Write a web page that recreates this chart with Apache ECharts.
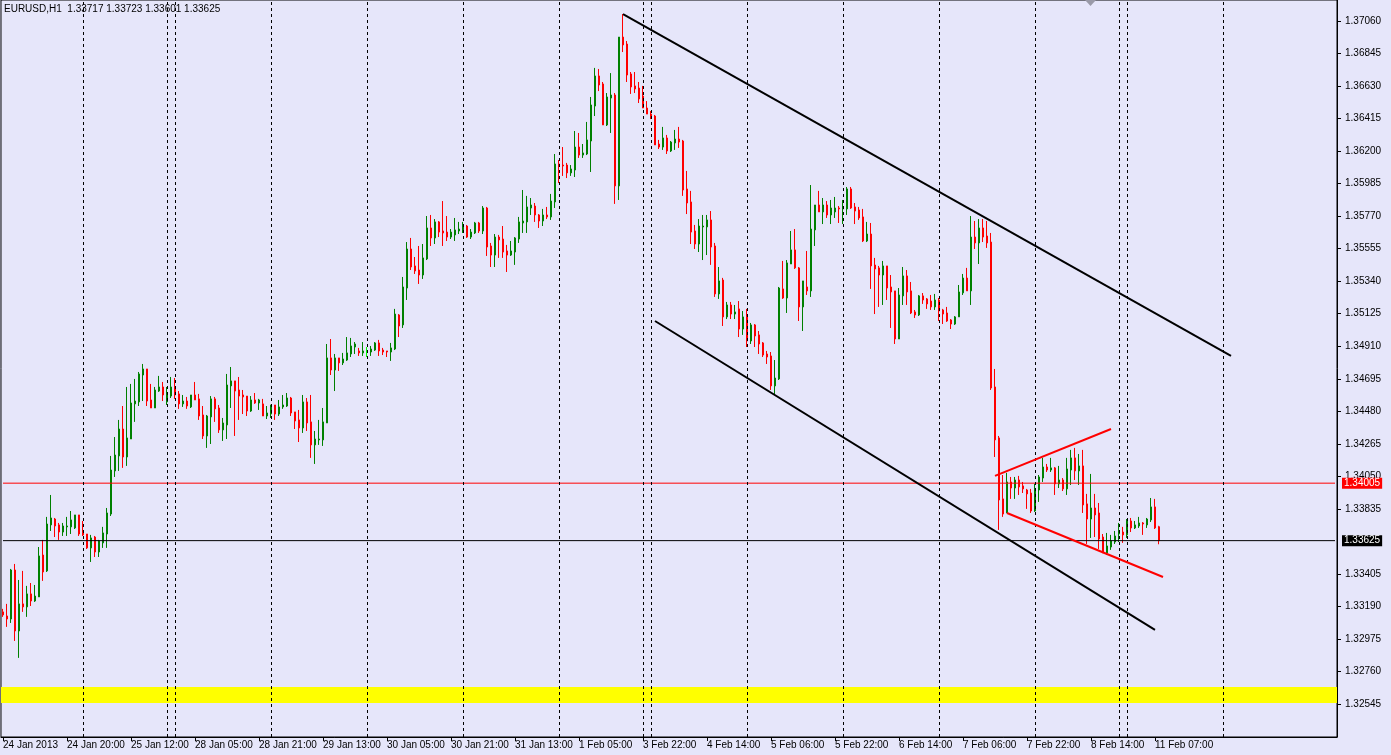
<!DOCTYPE html>
<html><head><meta charset="utf-8">
<script src="https://cdn.jsdelivr.net/npm/echarts@6/dist/echarts.min.js"></script>
<style>html,body{margin:0;padding:0;background:#e6e6fa;}#c{width:1391px;height:755px;}</style>
</head><body><div id="c"></div>
<script>
const chartTitle = 'EURUSD,H1  1.33717 1.33723 1.33601 1.33625';
const opens = [
1.33154,1.33127,1.33107,1.33431,1.33028,1.33207,1.33187,1.33273,1.33226,1.33253,
1.33530,1.33425,1.33729,1.33768,1.33729,1.33682,1.33716,1.33716,1.33709,1.33795,
1.33676,1.33669,1.33577,1.33649,1.33550,1.33610,1.33669,1.33801,1.34086,1.34185,
1.34363,1.34178,1.34297,1.34529,1.34542,1.34720,1.34760,1.34555,1.34502,1.34614,
1.34641,1.34542,1.34581,1.34641,1.34595,1.34529,1.34548,1.34509,1.34588,1.34562,
1.34456,1.34317,1.34443,1.34562,1.34502,1.34357,1.34390,1.34648,1.34681,1.34621,
1.34588,1.34581,1.34482,1.34555,1.34535,1.34529,1.34449,1.34462,1.34522,1.34462,
1.34509,1.34515,1.34568,1.34476,1.34423,1.34370,1.34542,1.34410,1.34258,1.34291,
1.34291,1.34403,1.34833,1.34753,1.34833,1.34800,1.34819,1.34859,1.34905,1.34879,
1.34866,1.34872,1.34872,1.34885,1.34932,1.34885,1.34879,1.34872,1.34892,1.35117,
1.35051,1.35295,1.35553,1.35441,1.35414,1.35381,1.35487,1.35692,1.35626,1.35732,
1.35672,1.35665,1.35632,1.35646,1.35672,1.35679,1.35705,1.35632,1.35659,1.35725,
1.35672,1.35824,1.35573,1.35513,1.35632,1.35619,1.35540,1.35513,1.35533,1.35619,
1.35725,1.35732,1.35824,1.35837,1.35778,1.35738,1.35778,1.35765,1.35864,1.36115,
1.36108,1.36108,1.36056,1.36075,1.36227,1.36174,1.36181,1.36267,1.36498,1.36697,
1.36644,1.36373,1.36551,1.36571,1.35970,1.36954,1.36908,1.36710,1.36631,1.36617,
1.36564,1.36485,1.36445,1.36432,1.36247,1.36227,1.36287,1.36201,1.36254,1.36280,
1.36267,1.35950,1.35864,1.35672,1.35586,1.35699,1.35699,1.35745,1.35573,1.35256,
1.35348,1.35104,1.35183,1.35123,1.35157,1.35024,1.35104,1.34945,1.35051,1.34985,
1.34932,1.34859,1.34846,1.34648,1.34694,1.35289,1.35229,1.35454,1.35547,1.35428,
1.35170,1.35302,1.35276,1.35679,1.35844,1.35798,1.35844,1.35778,1.35798,1.35824,
1.35818,1.35818,1.35950,1.35831,1.35811,1.35765,1.35606,1.35652,1.35447,1.35428,
1.35381,1.35441,1.35302,1.35276,1.34958,1.35243,1.35375,1.35276,1.35137,1.35117,
1.35243,1.35223,1.35209,1.35170,1.35216,1.35150,1.35130,1.35084,1.35057,1.35104,
1.35263,1.35361,1.35276,1.35632,1.35593,1.35692,1.35639,1.35599,1.34641,1.34304,
1.33901,1.33808,1.34013,1.33973,1.34026,1.33987,1.33960,1.33940,1.33821,1.33960,
1.34039,1.34112,1.34092,1.34106,1.34000,1.34026,1.33967,1.34092,1.34172,1.34086,
1.34119,1.33868,1.33768,1.33841,1.33808,1.33649,1.33544,1.33583,1.33616,1.33669,
1.33682,1.33663,1.33755,1.33709,1.33722,1.33742,1.33729,1.33762,1.33848,1.33717];
const highs = [
1.33174,1.33207,1.33438,1.33471,1.33365,1.33425,1.33326,1.33345,1.33332,1.33583,
1.33630,1.33782,1.33927,1.33775,1.33742,1.33742,1.33782,1.33821,1.33795,1.33795,
1.33755,1.33669,1.33663,1.33656,1.33630,1.33716,1.33841,1.34185,1.34310,1.34423,
1.34515,1.34641,1.34661,1.34694,1.34740,1.34793,1.34760,1.34661,1.34641,1.34714,
1.34674,1.34641,1.34707,1.34700,1.34614,1.34588,1.34575,1.34588,1.34674,1.34595,
1.34515,1.34456,1.34581,1.34575,1.34522,1.34436,1.34727,1.34773,1.34681,1.34707,
1.34621,1.34581,1.34581,1.34601,1.34562,1.34562,1.34515,1.34522,1.34522,1.34555,
1.34588,1.34601,1.34575,1.34476,1.34489,1.34588,1.34568,1.34588,1.34350,1.34423,
1.34502,1.34925,1.34958,1.34859,1.34833,1.34866,1.34971,1.34965,1.34938,1.34899,
1.34938,1.34905,1.34912,1.34938,1.34952,1.34899,1.34879,1.34932,1.35157,1.35123,
1.35368,1.35599,1.35626,1.35500,1.35573,1.35586,1.35771,1.35778,1.35751,1.35738,
1.35870,1.35771,1.35685,1.35758,1.35732,1.35732,1.35712,1.35685,1.35732,1.35732,
1.35837,1.35831,1.35593,1.35652,1.35646,1.35705,1.35580,1.35606,1.35632,1.35765,
1.35943,1.35904,1.35890,1.35857,1.35784,1.35818,1.35831,1.35917,1.36181,1.36141,
1.36227,1.36122,1.36108,1.36333,1.36320,1.36247,1.36393,1.36558,1.36750,1.36743,
1.36657,1.36584,1.36716,1.36584,1.36954,1.37106,1.36928,1.36723,1.36723,1.36657,
1.36631,1.36531,1.36465,1.36439,1.36274,1.36360,1.36307,1.36267,1.36340,1.36360,
1.36274,1.36069,1.35937,1.35712,1.35751,1.35778,1.35778,1.35804,1.35593,1.35434,
1.35362,1.35203,1.35203,1.35183,1.35209,1.35143,1.35157,1.35064,1.35057,1.35011,
1.34938,1.34879,1.34872,1.34819,1.35302,1.35474,1.35480,1.35672,1.35685,1.35434,
1.35342,1.35540,1.35976,1.35844,1.35937,1.35890,1.35870,1.35877,1.35897,1.35837,
1.35877,1.35963,1.35963,1.35857,1.35831,1.35818,1.35732,1.35725,1.35494,1.35441,
1.35474,1.35441,1.35381,1.35276,1.35295,1.35434,1.35414,1.35335,1.35150,1.35249,
1.35262,1.35229,1.35249,1.35256,1.35229,1.35157,1.35170,1.35090,1.35110,1.35315,
1.35388,1.35428,1.35771,1.35738,1.35751,1.35751,1.35738,1.35659,1.34760,1.34317,
1.34059,1.34073,1.34046,1.34046,1.34053,1.34013,1.33967,1.33967,1.34000,1.34059,
1.34172,1.34132,1.34172,1.34112,1.34119,1.34039,1.34172,1.34225,1.34238,1.34198,
1.34225,1.33934,1.34066,1.33934,1.33874,1.33669,1.33676,1.33663,1.33689,1.33742,
1.33716,1.33768,1.33775,1.33755,1.33782,1.33748,1.33775,1.33907,1.33901,1.33723];
const lows = [
1.33121,1.33055,1.33081,1.32962,1.32850,1.33154,1.33121,1.33193,1.33220,1.33253,
1.33359,1.33418,1.33689,1.33649,1.33630,1.33656,1.33656,1.33669,1.33702,1.33656,
1.33656,1.33570,1.33484,1.33517,1.33517,1.33577,1.33577,1.33788,1.34046,1.34086,
1.34106,1.34119,1.34297,1.34410,1.34515,1.34548,1.34515,1.34502,1.34502,1.34608,
1.34548,1.34522,1.34568,1.34562,1.34496,1.34509,1.34496,1.34502,1.34555,1.34423,
1.34297,1.34238,1.34264,1.34410,1.34337,1.34284,1.34297,1.34502,1.34317,1.34423,
1.34462,1.34449,1.34476,1.34529,1.34489,1.34449,1.34429,1.34436,1.34423,1.34449,
1.34496,1.34509,1.34449,1.34363,1.34277,1.34337,1.34350,1.34172,1.34132,1.34258,
1.34251,1.34403,1.34720,1.34614,1.34747,1.34786,1.34813,1.34839,1.34859,1.34846,
1.34846,1.34839,1.34846,1.34879,1.34846,1.34852,1.34839,1.34813,1.34885,1.34971,
1.35031,1.35216,1.35414,1.35388,1.35322,1.35355,1.35480,1.35573,1.35586,1.35632,
1.35573,1.35606,1.35619,1.35606,1.35652,1.35659,1.35626,1.35619,1.35652,1.35659,
1.35652,1.35507,1.35434,1.35434,1.35494,1.35494,1.35401,1.35507,1.35448,1.35593,
1.35659,1.35659,1.35778,1.35732,1.35692,1.35705,1.35751,1.35745,1.35824,1.35989,
1.36036,1.36022,1.36036,1.36029,1.36155,1.36155,1.36174,1.36062,1.36432,1.36597,
1.36373,1.36366,1.36320,1.35851,1.35877,1.36855,1.36657,1.36578,1.36584,1.36518,
1.36485,1.36445,1.36412,1.36241,1.36214,1.36208,1.36181,1.36194,1.36208,1.36221,
1.35904,1.35784,1.35586,1.35553,1.35533,1.35480,1.35513,1.35448,1.35236,1.35223,
1.35044,1.35090,1.35090,1.35090,1.34971,1.34985,1.34905,1.34925,1.34905,1.34859,
1.34839,1.34793,1.34621,1.34588,1.34687,1.35223,1.35130,1.35454,1.35421,1.35077,
1.35011,1.35249,1.35236,1.35573,1.35798,1.35718,1.35758,1.35718,1.35758,1.35725,
1.35718,1.35778,1.35818,1.35718,1.35745,1.35599,1.35599,1.35289,1.35123,1.35170,
1.35183,1.35216,1.35031,1.34925,1.34958,1.35183,1.35183,1.35123,1.35097,1.35110,
1.35190,1.35157,1.35150,1.35150,1.35077,1.35057,1.35071,1.35024,1.35051,1.35104,
1.35249,1.35276,1.35183,1.35553,1.35454,1.35599,1.35560,1.34621,1.34178,1.33696,
1.33782,1.33808,1.33901,1.33901,1.33927,1.33940,1.33835,1.33808,1.33815,1.33881,
1.34013,1.34079,1.34079,1.33927,1.33973,1.33953,1.33927,1.33993,1.34026,1.33993,
1.33808,1.33603,1.33643,1.33649,1.33570,1.33544,1.33530,1.33564,1.33603,1.33616,
1.33610,1.33643,1.33682,1.33702,1.33709,1.33663,1.33709,1.33748,1.33702,1.33601];
const closes = [
1.33134,1.33107,1.33431,1.33028,1.33207,1.33187,1.33273,1.33226,1.33259,1.33524,
1.33418,1.33735,1.33775,1.33722,1.33682,1.33722,1.33722,1.33762,1.33795,1.33669,
1.33663,1.33577,1.33643,1.33550,1.33623,1.33676,1.33808,1.34092,1.34191,1.34363,
1.34178,1.34304,1.34535,1.34548,1.34727,1.34760,1.34548,1.34502,1.34621,1.34641,
1.34588,1.34588,1.34641,1.34588,1.34529,1.34548,1.34515,1.34588,1.34555,1.34449,
1.34317,1.34449,1.34562,1.34496,1.34357,1.34403,1.34654,1.34681,1.34614,1.34581,
1.34575,1.34482,1.34555,1.34535,1.34555,1.34449,1.34469,1.34522,1.34462,1.34509,
1.34522,1.34568,1.34469,1.34416,1.34370,1.34542,1.34403,1.34258,1.34297,1.34297,
1.34410,1.34833,1.34753,1.34833,1.34800,1.34826,1.34866,1.34912,1.34925,1.34866,
1.34879,1.34872,1.34892,1.34932,1.34879,1.34872,1.34872,1.34899,1.35123,1.35044,
1.35302,1.35553,1.35434,1.35408,1.35381,1.35494,1.35692,1.35626,1.35732,1.35665,
1.35659,1.35632,1.35665,1.35679,1.35685,1.35705,1.35632,1.35665,1.35725,1.35672,
1.35824,1.35566,1.35513,1.35632,1.35613,1.35533,1.35513,1.35540,1.35626,1.35732,
1.35738,1.35831,1.35844,1.35778,1.35738,1.35778,1.35765,1.35870,1.36115,1.36102,
1.36102,1.36056,1.36082,1.36227,1.36174,1.36188,1.36274,1.36505,1.36697,1.36637,
1.36373,1.36558,1.36571,1.35970,1.36954,1.36902,1.36703,1.36624,1.36611,1.36545,
1.36485,1.36445,1.36426,1.36241,1.36227,1.36287,1.36201,1.36260,1.36280,1.36260,
1.35943,1.35857,1.35665,1.35586,1.35705,1.35705,1.35745,1.35566,1.35256,1.35342,
1.35104,1.35183,1.35123,1.35137,1.35024,1.35104,1.34945,1.35051,1.34978,1.34925,
1.34852,1.34839,1.34648,1.34700,1.35295,1.35229,1.35461,1.35547,1.35428,1.35170,
1.35342,1.35276,1.35685,1.35844,1.35798,1.35844,1.35778,1.35824,1.35824,1.35818,
1.35824,1.35950,1.35824,1.35804,1.35758,1.35606,1.35652,1.35441,1.35421,1.35381,
1.35441,1.35295,1.35269,1.34958,1.35249,1.35375,1.35269,1.35130,1.35117,1.35243,
1.35216,1.35190,1.35170,1.35216,1.35143,1.35123,1.35077,1.35057,1.35104,1.35269,
1.35361,1.35276,1.35632,1.35593,1.35692,1.35632,1.35593,1.34634,1.34291,1.33894,
1.33801,1.34013,1.33973,1.34026,1.33980,1.33967,1.33934,1.33821,1.33960,1.34046,
1.34112,1.34092,1.34106,1.34000,1.34026,1.33967,1.34099,1.34172,1.34086,1.34119,
1.33861,1.33768,1.33841,1.33795,1.33636,1.33544,1.33590,1.33623,1.33656,1.33689,
1.33663,1.33755,1.33709,1.33729,1.33742,1.33735,1.33768,1.33848,1.33709,1.33625];

const priceTickLabels = [1.32545,1.32760,1.32975,1.33190,1.33405,1.33835,1.34050,1.34265,1.34480,
  1.34695,1.34910,1.35125,1.35340,1.35555,1.35770,1.35985,1.36200,1.36415,1.36630,1.36845,1.37060];
const priceMin = 1.32327, priceMax = 1.37199;
const bidLine = 1.34005;      // red horizontal level
const lastLine = 1.33625;     // black horizontal level
const supportBand = [1.32551, 1.32657];
const channelUpper = [[155, 1.37106], [307, 1.34846]];
const channelLower = [[163, 1.35077], [288, 1.33035]];
const wedgeUpper = [[248, 1.34053], [277, 1.34363]];
const wedgeLower = [[251, 1.33808], [290, 1.33385]];

// hourly categories (market closed Fri 21:00 - Sun 22:00), starting 24 Jan 2013 04:00
const MONTHS = ['Jan','Feb','Mar','Apr','May','Jun','Jul','Aug','Sep','Oct','Nov','Dec'];
const SLOT_COUNT = 334;
const categories = [], dayKeys = [], years = [];
(function () {
  let t = Date.UTC(2013, 0, 24, 4);
  while (categories.length < SLOT_COUNT) {
    const d = new Date(t);
    const wd = d.getUTCDay(), h = d.getUTCHours();
    const closed = (wd === 5 && h >= 21) || wd === 6 || (wd === 0 && h < 22);
    if (!closed) {
      categories.push(d.getUTCDate() + ' ' + MONTHS[d.getUTCMonth()] + ' ' + String(h).padStart(2, '0') + ':00');
      dayKeys.push(d.getUTCDate() + '-' + d.getUTCMonth());
      years.push(d.getUTCFullYear());
    }
    t += 3600000;
  }
})();
// day separators: every date change up to the first day after the last bar
const separators = [];
for (let i = 1; i < categories.length; i++) {
  if (dayKeys[i] !== dayKeys[i - 1]) {
    separators.push(i);
    if (i >= opens.length) break;
  }
}

const candleData = opens.map((o, i) => [o, closes[i], lows[i], highs[i]]);
const labelEvery = 16;
const showLabel = (idx) => idx % labelEvery === 0 && idx < opens.length;
const lastIdx = SLOT_COUNT - 1;

const FONT = 'Liberation Sans';
function levelSeries(value, color) {
  return {
    type: 'line', data: [[0, value], [lastIdx, value]], z: 4, symbol: 'none', silent: true,
    lineStyle: { color: color, width: 1 },
    endLabel: { show: true, distance: 7, formatter: value.toFixed(5), backgroundColor: color,
      color: '#fff', fontSize: 10, fontFamily: FONT, padding: [1, 2, 0, 2] }
  };
}
const chart = echarts.init(document.getElementById('c'), null, { renderer: 'canvas' });
chart.setOption({
  animation: false,
  backgroundColor: '#e6e6fa',
  title: { text: chartTitle, left: 4, top: 4, padding: 0,
    textStyle: { fontSize: 10, fontWeight: 'normal', color: '#000', fontFamily: FONT } },
  grid: { left: 0, right: 54, top: 0, bottom: 18, show: true, borderColor: '#000', borderWidth: 1,
    backgroundColor: 'transparent' },
  xAxis: {
    type: 'category', data: categories, boundaryGap: true,
    axisLine: { lineStyle: { color: '#000', width: 1 } },
    axisTick: { show: true, alignWithLabel: true, interval: (i) => showLabel(i), length: 4,
      lineStyle: { color: '#000' } },
    axisLabel: { interval: (i) => showLabel(i), align: 'left', margin: 3, color: '#000',
      fontSize: 10, fontFamily: FONT,
      formatter: (v, idx) => idx === 0 ? v.split(' ').slice(0, 2).join(' ') + ' ' + years[0] : v },
    splitLine: { show: false }
  },
  yAxis: {
    type: 'value', position: 'right', min: priceMin, max: priceMax, scale: true,
    axisLine: { show: true, lineStyle: { color: '#000', width: 1 } },
    axisTick: { show: true, length: 4, customValues: priceTickLabels, lineStyle: { color: '#000' } },
    axisLabel: { customValues: priceTickLabels, margin: 8, color: '#000', fontSize: 10, fontFamily: FONT,
      formatter: (v) => v.toFixed(5) },
    splitLine: { show: false }
  },
  graphic: [{ type: 'polygon', shape: { points: [[1085, 0], [1096, 0], [1090.5, 6]] },
    style: { fill: '#9a9aa8' }, z: 10 }],
  series: [
    { type: 'line', data: [], z: 1, silent: true,
      markArea: { silent: true, itemStyle: { color: '#ffff00' },
        data: [[{ yAxis: supportBand[0] }, { yAxis: supportBand[1] }]] },
      markLine: { silent: true, symbol: ['none', 'none'], label: { show: false },
        lineStyle: { color: '#000', type: [3, 3], width: 1 },
        data: separators.map((i) => ({ xAxis: i })) } },
    { type: 'candlestick', data: candleData, z: 3, barWidth: 2,
      itemStyle: { color: '#008000', color0: '#ff0000', borderColor: '#008000', borderColor0: '#ff0000',
        borderColorDoji: '#00ff00', borderWidth: 1 } },
    levelSeries(bidLine, '#ff0000'),
    levelSeries(lastLine, '#000000'),
    { type: 'line', data: channelUpper, z: 5, symbol: 'none', silent: true, lineStyle: { color: '#000', width: 2 } },
    { type: 'line', data: channelLower, z: 5, symbol: 'none', silent: true, lineStyle: { color: '#000', width: 2 } },
    { type: 'line', data: wedgeUpper, z: 5, symbol: 'none', silent: true, lineStyle: { color: '#ff0000', width: 2 } },
    { type: 'line', data: wedgeLower, z: 5, symbol: 'none', silent: true, lineStyle: { color: '#ff0000', width: 2 } }
  ]
});
</script></body></html>
